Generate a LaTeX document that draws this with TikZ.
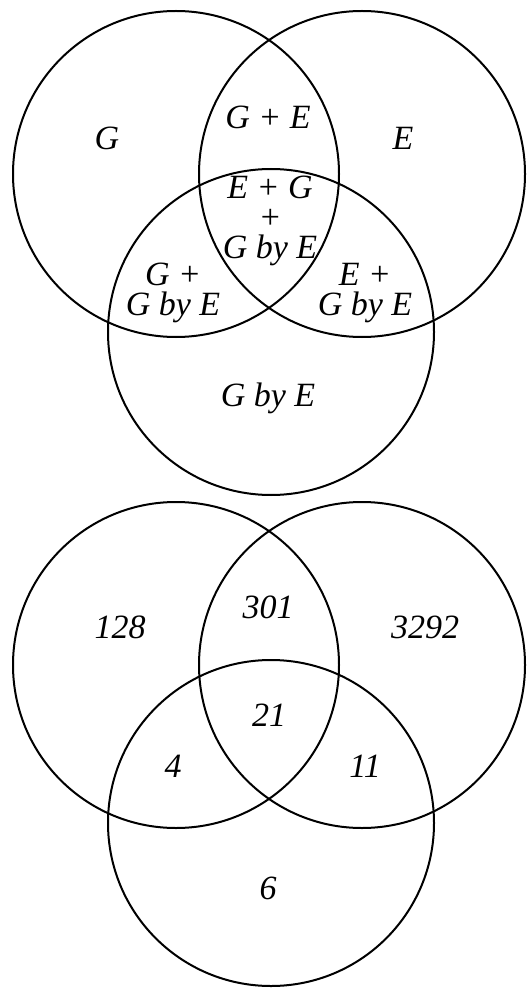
\documentclass[tikz,border=0pt]{standalone}
\usepackage{fontspec}
\setmainfont{Liberation Serif}
\usetikzlibrary{positioning}

\begin{document}
\begin{tikzpicture}[x=0.5pt,y=-0.5pt,
  ring/.style={line width=1pt},
  lab/.style={font=\fontsize{17}{15}\selectfont\itshape, align=center, inner sep=0pt}]
\useasboundingbox (0,0) rectangle (531,989);

% Three circles, drawn twice
\foreach \dy in {0,491} {
  \draw[ring] (176,174+\dy) circle (163);
  \draw[ring] (362,174+\dy) circle (163);
  \draw[ring] (271,332+\dy) circle (163);
}

% Upper diagram: effects
\node[lab] (g)    at (107,138) {G};
\node[lab] (e)    at (403,138) {E};
\node[lab] (ge)   at (268,117) {G + E};
\node[lab] (egx)  at (270,221) {E + G\\+\\G by E};
\node[lab] (gx)   at (173,293) {G +\\G by E};
\node[lab] (ex)   at (365,293) {E +\\G by E};
\node[lab] (x)    at (268,398) {G by E};

% Lower diagram: counts
\node[lab] (n128)  at (120,627) {128};
\node[lab] (n301)  at (268,607) {301};
\node[lab] (n3292) at (425,627) {3292};
\node[lab] (n21)   at (269,715) {21};
\node[lab] (n4)    at (173,766) {4};
\node[lab] (n11)   at (365,766) {11};
\node[lab] (n6)    at (268,888) {6};

\end{tikzpicture}
\end{document}
